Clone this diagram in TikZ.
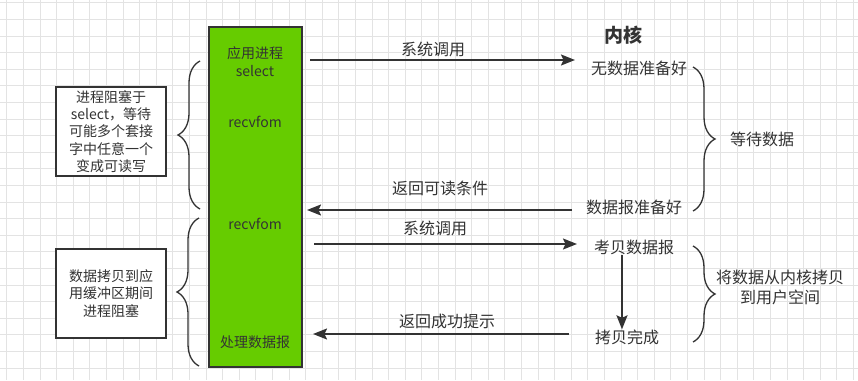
\documentclass[tikz,border=0pt]{standalone}
\usepackage{fontspec}
\setmainfont{Noto Sans CJK SC}
\usetikzlibrary{arrows.meta, positioning, decorations.pathreplacing}
\definecolor{procgreen}{HTML}{66CC00}
\definecolor{ink}{HTML}{333333}
\definecolor{gridgray}{HTML}{E3E3E3}
\tikzstyle{arrow} = [line width=1.8pt, draw=ink, -{Stealth[length=14pt, width=11pt, inset=2.5pt]}]
\tikzstyle{note}  = [draw=ink, line width=1.6pt, fill=white, minimum width=110pt, minimum height=89pt, align=center, text=ink, font=\fontsize{14}{17.3}\selectfont]

\begin{document}
\begin{tikzpicture}[
        x=1pt, y=-1pt,
        brc/.style={
            draw=ink,
            line width=1.3pt,
            decorate,
            decoration={brace, amplitude=22pt}
        },
        lbl/.style={inner sep=0pt, text=ink, font=\fontsize{16}{20}\selectfont},
        app/.style={inner sep=0pt, text=ink, align=center, font=\fontsize{14}{18}\selectfont}
    ]

        \useasboundingbox (0,0) rectangle (858,380);
        \fill[white] (0,0) rectangle (858,380);
        \foreach \i in {0,...,51} {
            \draw[gridgray, line width=0.7pt] (6.7+\i*16.6,0) -- (6.7+\i*16.6,380);
        }
        \foreach \j in {0,...,22} {
            \draw[gridgray, line width=0.7pt] (0,2.7+\j*16.6) -- (858,2.7+\j*16.6);
        }

        \node[draw=ink, line width=2.5pt, fill=procgreen, minimum width=93pt, minimum height=340pt, inner sep=0pt] (proc) at (255.5,197) {};

        \node[app] (sel) at (255,62) {应用进程\\select};
        \node[app] (recv1) at (255,122) {recvfom};
        \node[app] (recv2) at (255,224) {recvfom};
        \node[app] (handle) at (255,342) {处理数据报};

        \node[note] (waitsel) at (111,131.5) {进程阻塞于\\select，等待\\可能多个套接\\字中任意一个\\变成可读写};
        \node[note] (blockcopy) at (111,293.5) {数据拷贝到应\\用缓冲区期间\\进程阻塞};

        \draw[brc] (200,209) -- (200,61);
        \draw[brc] (199,366) -- (199,218);
        \draw[brc] (693,67) -- (693,211);
        \draw[brc] (693,246) -- (693,342);

        \node[lbl, font=\bfseries\fontsize{19}{22}\selectfont] (kernel) at (623,35) {内核};
        \node[lbl] (nodata) at (639,68) {无数据准备好};
        \node[lbl] (ready) at (634,207) {数据报准备好};
        \node[lbl] (copy) at (634,247) {考贝数据报};
        \node[lbl] (done) at (627,337) {拷贝完成};
        \node[lbl] (waitdata) at (762,139) {等待数据};
        \node[lbl, align=center] (touser) at (780,287) {将数据从内核拷贝\\到用户空间};

        \node[lbl] (call1) at (433,49) {系统调用};
        \node[lbl] (back1) at (440,188) {返回可读条件};
        \node[lbl] (call2) at (435,228) {系统调用};
        \node[lbl] (back2) at (447,321) {返回成功提示};

        \coordinate (c1s) at (310,60);
        \coordinate (c1e) at (575,60);
        \coordinate (b1s) at (572,210);
        \coordinate (b1e) at (307,210);
        \coordinate (c2s) at (314,244);
        \coordinate (c2e) at (577,244);
        \coordinate (b2s) at (569,334);
        \coordinate (b2e) at (313,334);

        \draw[arrow] (c1s) -- (c1e);
        \draw[arrow] (b1s) -- (b1e);
        \draw[arrow] (c2s) -- (c2e);
        \draw[arrow] (b2s) -- (b2e);
        \draw[arrow] ([xshift=-12pt]copy.south) -- ([xshift=-5pt]done.north);

    \end{tikzpicture}
\end{document}
